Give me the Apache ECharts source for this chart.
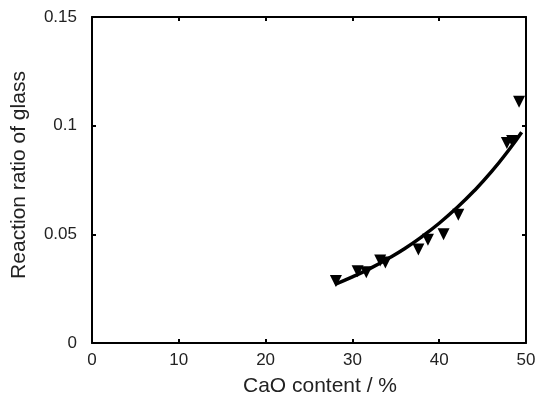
<!DOCTYPE html>
<html>
<head>
<meta charset="utf-8">
<script src="https://cdn.jsdelivr.net/npm/echarts@6/dist/echarts.min.js"></script>
<style>
  html, body { margin: 0; padding: 0; background: #fff; }
  #chart { width: 539px; height: 402px; }
</style>
</head>
<body>
<div id="chart"></div>
<script>
// Measured samples: CaO content (%) and reaction ratio of glass
const caoContent = [28.1, 30.6, 31.6, 33.2, 33.8, 37.6, 38.7, 40.5, 42.2, 47.8, 48.4, 49.2];
const reactionRatio = [0.0285, 0.033, 0.0325, 0.038, 0.037, 0.043, 0.0475, 0.050, 0.059, 0.092, 0.093, 0.111];

// Fitted trend line
const fitX = [28, 30, 32, 34, 36, 38, 40, 42, 44, 46, 48, 49.5];
const fitY = [0.0270, 0.0304, 0.0342, 0.0386, 0.0434, 0.0489, 0.0551, 0.0621, 0.0699, 0.0787, 0.0887, 0.0970];

// Axis ticks
const xTicks = [0, 10, 20, 30, 40, 50];
const yTicks = [0, 0.05, 0.1, 0.15];

const font = 'Liberation Sans, Arial, Helvetica, sans-serif';
const chart = echarts.init(document.getElementById('chart'), null, { renderer: 'canvas' });

const frameLine = { show: true, onZero: false, lineStyle: { color: '#000', width: 2 } };
const innerTick = { show: true, inside: true, length: 4, lineStyle: { color: '#000', width: 2 } };

chart.setOption({
  animation: false,
  backgroundColor: '#fff',
  grid: { left: 92, right: 13, top: 17, bottom: 59 },
  xAxis: [
    {
      type: 'value', min: xTicks[0], max: xTicks[xTicks.length - 1], interval: 10,
      position: 'bottom',
      axisLine: frameLine, axisTick: innerTick, splitLine: { show: false },
      axisLabel: { color: '#222', fontSize: 17, fontFamily: font, margin: 9 },
      name: 'CaO content / %', nameLocation: 'middle', nameGap: 33,
      nameTextStyle: { color: '#222', fontSize: 21, fontFamily: font, padding: [0, 0, 0, 22] }
    },
    {
      type: 'value', min: xTicks[0], max: xTicks[xTicks.length - 1], interval: 10,
      position: 'top',
      axisLine: frameLine, axisTick: innerTick, splitLine: { show: false },
      axisLabel: { show: false }
    }
  ],
  yAxis: [
    {
      type: 'value', min: yTicks[0], max: yTicks[yTicks.length - 1], interval: 0.05,
      position: 'left',
      axisLine: frameLine, axisTick: innerTick, splitLine: { show: false },
      axisLabel: {
        color: '#222', fontSize: 17, fontFamily: font, margin: 15,
        formatter: v => (v === 0 ? '0' : String(+v.toFixed(2)))
      },
      name: 'Reaction ratio of glass', nameLocation: 'middle', nameGap: 62,
      nameTextStyle: { color: '#222', fontSize: 21, fontFamily: font, padding: [0, 0, 0, 10] }
    },
    {
      type: 'value', min: yTicks[0], max: yTicks[yTicks.length - 1], interval: 0.05,
      position: 'right',
      axisLine: frameLine, axisTick: innerTick, splitLine: { show: false },
      axisLabel: { show: false }
    }
  ],
  series: [
    {
      type: 'line',
      data: fitX.map((x, i) => [x, fitY[i]]),
      smooth: true,
      showSymbol: false,
      lineStyle: { color: '#000', width: 3.5 },
      z: 2
    },
    {
      type: 'scatter',
      data: caoContent.map((x, i) => [x, reactionRatio[i]]),
      symbol: 'triangle',
      symbolRotate: 180,
      symbolSize: 12,
      itemStyle: { color: '#000', opacity: 1 },
      z: 3
    }
  ]
});
</script>
</body>
</html>
